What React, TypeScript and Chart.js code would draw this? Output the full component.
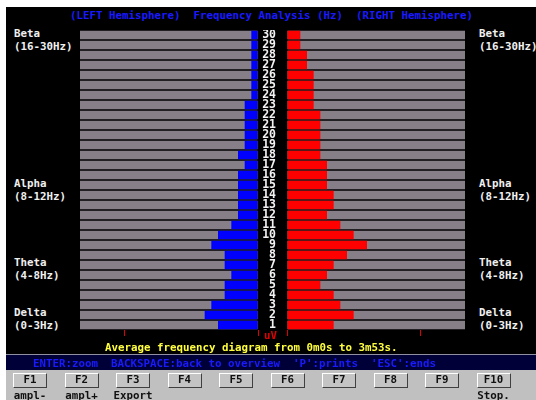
import React, { useEffect, useRef } from 'react';
import { Chart, registerables } from 'chart.js';

Chart.register(...registerables);

// Frequency bins (Hz), top to bottom
const frequencies = ['30','29','28','27','26','25','24','23','22','21','20','19','18','17','16','15','14','13','12','11','10','9','8','7','6','5','4','3','2','1'];
// Average amplitude, left hemisphere (blue)
const leftValues = [1,1,1,1,1,1,1,2,2,2,2,2,3,2,3,3,3,3,3,4,6,7,5,5,4,5,5,7,8,6];
// Average amplitude, right hemisphere (red)
const rightValues = [2,2,3,3,4,4,4,4,5,5,5,5,5,6,6,6,7,7,6,8,10,12,9,7,6,5,7,8,10,7];
// Scale
const scaleMax = 26.7;
const tickValues = [0, 20];

const bands = [
  { name: 'Beta', range: '(16-30Hz)', top: 28 },
  { name: 'Alpha', range: '(8-12Hz)', top: 178 },
  { name: 'Theta', range: '(4-8Hz)', top: 257 },
  { name: 'Delta', range: '(0-3Hz)', top: 307 },
];
const fkeys = ['F1','F2','F3','F4','F5','F6','F7','F8','F9','F10'];
const fkeyLabels = ['ampl-','ampl+','Export','','','','','','','Stop.'];

const GRAY = '#877f88';
const MONO = '"DejaVu Sans Mono", "Liberation Mono", monospace';

function makeConfig(values: number[], color: string, isLeft: boolean): any {
  return {
    type: 'bar',
    data: {
      labels: frequencies,
      datasets: [
        { data: values, backgroundColor: color, barPercentage: 0.85, categoryPercentage: 1, grouped: false, order: 0 },
        { data: frequencies.map(() => scaleMax), backgroundColor: GRAY, barPercentage: 0.85, categoryPercentage: 1, grouped: false, order: 1 },
      ],
    },
    options: {
      indexAxis: 'y',
      animation: false,
      responsive: false,
      maintainAspectRatio: false,
      devicePixelRatio: 1,
      events: [],
      layout: { padding: isLeft ? { left: 0, right: 2, top: 0, bottom: 0 } : 0 },
      plugins: { legend: { display: false }, tooltip: { enabled: false } },
      scales: {
        x: {
          type: 'linear',
          min: 0,
          max: scaleMax,
          reverse: isLeft,
          afterBuildTicks: (s: any) => { s.ticks = tickValues.map((v) => ({ value: v })); },
          ticks: { display: false },
          grid: { drawOnChartArea: false, drawTicks: true, tickLength: 6, color: '#e00000', lineWidth: 1 },
          border: { display: false },
          afterFit: (s: any) => { s.height = 8; s.paddingLeft = 0; s.paddingRight = 0; },
        },
        y: isLeft
          ? { display: false }
          : {
              position: 'left',
              grid: { display: false, drawTicks: false },
              border: { display: false },
              ticks: {
                color: '#f2f2f2',
                padding: 11,
                crossAlign: 'near',
                autoSkip: false,
                font: { family: MONO, size: 11.5, weight: 'bold' },
              },
              afterFit: (s: any) => { s.width = 29; s.paddingTop = 0; s.paddingBottom = 0; },
            },
      },
    },
  };
}

export default function App() {
  const leftRef = useRef<HTMLCanvasElement>(null);
  const rightRef = useRef<HTMLCanvasElement>(null);

  useEffect(() => {
    const l = new Chart(leftRef.current as HTMLCanvasElement, makeConfig(leftValues, '#0000ff', true));
    const r = new Chart(rightRef.current as HTMLCanvasElement, makeConfig(rightValues, '#ff0000', false));
    return () => { l.destroy(); r.destroy(); };
  }, []);

  const text = (extra: any): any => ({
    position: 'absolute', fontFamily: MONO, fontSize: '10.8px', lineHeight: '12px', whiteSpace: 'pre', ...extra,
  });

  return (
    <div style={{ position: 'absolute', left: 0, top: 0, width: 536, height: 400, background: '#ffffff', overflow: 'hidden' }}>
      <div style={{ position: 'absolute', left: 6, top: 7, width: 530, height: 347, background: '#000000' }} />
      <div style={{ position: 'absolute', left: 6, top: 354, width: 530, height: 1, background: '#9090a0' }} />
      <div style={{ position: 'absolute', left: 6, top: 355, width: 530, height: 15, background: '#000038' }} />
      <div style={{ position: 'absolute', left: 6, top: 370, width: 530, height: 30, background: '#c0c0c0' }} />

      <div style={text({ left: 70, top: 10, color: '#1a1aff', fontWeight: 'bold' })}>(LEFT Hemisphere)  Frequency Analysis (Hz)  (RIGHT Hemisphere)</div>

      {bands.map((b) => (
        <React.Fragment key={b.name}>
          <div style={text({ left: 14, top: b.top, color: '#f0f0f0', fontWeight: 'bold' })}>{b.name}</div>
          <div style={text({ left: 14, top: b.top + 12.5, color: '#f0f0f0', fontWeight: 'bold' })}>{b.range}</div>
          <div style={text({ left: 479, top: b.top, color: '#f0f0f0', fontWeight: 'bold' })}>{b.name}</div>
          <div style={text({ left: 479, top: b.top + 12.5, color: '#f0f0f0', fontWeight: 'bold' })}>{b.range}</div>
        </React.Fragment>
      ))}

      <canvas ref={leftRef} width={180} height={308} style={{ position: 'absolute', left: 80, top: 30, width: 180, height: 308 }} />
      <canvas ref={rightRef} width={207} height={308} style={{ position: 'absolute', left: 258, top: 30, width: 207, height: 308 }} />

      <div style={text({ left: 264, top: 330, color: '#e00000', fontWeight: 'bold' })}>uV</div>
      <div style={text({ left: 105, top: 342, color: '#ffff40', fontWeight: 'bold' })}>Average frequency diagram from 0m0s to 3m53s.</div>
      <div style={text({ left: 33, top: 358, color: '#1a1aff', fontWeight: 'bold' })}>ENTER:zoom  BACKSPACE:back to overview  'P':prints  'ESC':ends</div>

      {fkeys.map((k, i) => {
        const cx = 30 + i * 51.5;
        return (
          <React.Fragment key={k}>
            <div style={{
              position: 'absolute', left: cx - 17, top: 373, width: 34, height: 15, boxSizing: 'border-box',
              background: '#c4c4c4', borderTop: '1px solid #ffffff', borderLeft: '1px solid #ffffff',
              borderBottom: '1px solid #404040', borderRight: '1px solid #404040',
            }} />
            <div style={text({ left: cx - 25, width: 50, textAlign: 'center', top: 374, color: '#101010', fontWeight: 'bold' })}>{k}</div>
            <div style={text({ left: cx - 25, width: 50, textAlign: 'center', top: 390, color: '#101010', fontWeight: 'bold' })}>{fkeyLabels[i]}</div>
          </React.Fragment>
        );
      })}
    </div>
  );
}
